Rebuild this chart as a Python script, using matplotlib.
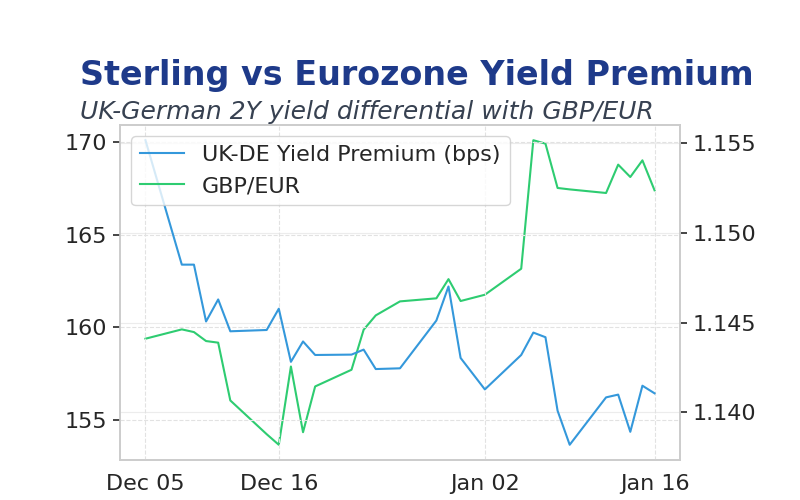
import matplotlib
matplotlib.use("Agg")
import matplotlib.pyplot as plt
import matplotlib.dates as mdates
import numpy as np
import pandas as pd

dates = pd.to_datetime([
    "2025-12-05", "2025-12-08", "2025-12-09", "2025-12-10", "2025-12-11", "2025-12-12",
    "2025-12-15", "2025-12-16", "2025-12-17", "2025-12-18", "2025-12-19",
    "2025-12-22", "2025-12-23", "2025-12-24", "2025-12-26",
    "2025-12-29", "2025-12-30", "2025-12-31", "2026-01-02",
    "2026-01-05", "2026-01-06", "2026-01-07", "2026-01-08", "2026-01-09",
    "2026-01-12", "2026-01-13", "2026-01-14", "2026-01-15", "2026-01-16",
])

yield_premium = [
    170.1, 163.38, 163.38, 160.31, 161.5, 159.78,
    159.85, 161.0, 158.13, 159.23, 158.5,
    158.52, 158.79, 157.74, 157.78,
    160.36, 162.2, 158.34, 156.64,
    158.5, 159.71, 159.46, 155.49, 153.65,
    156.21, 156.36, 154.35, 156.84, 156.43,
]

gbp_eur = [
    1.14411, 1.14463, 1.14448, 1.14398, 1.14389, 1.14067,
    1.13879, 1.1382, 1.14256, 1.1389, 1.14145,
    1.14238, 1.14461, 1.14541, 1.14619,
    1.14636, 1.14743, 1.14621, 1.14656,
    1.14801, 1.15517, 1.15498, 1.15251, 1.15243,
    1.15223, 1.15381, 1.15312, 1.15405, 1.15238,
]

tick_dates = pd.to_datetime(["2025-12-05", "2025-12-16", "2026-01-02", "2026-01-16"])

BLUE = "#3498db"
GREEN = "#2ecc71"
TEXT = "#262626"

fig = plt.figure(figsize=(8, 5), dpi=100)
ax1 = fig.add_axes([0.15, 0.08, 0.70, 0.67])
ax2 = ax1.twinx()

l1, = ax1.plot(dates, yield_premium, color=BLUE, lw=1.5, label="UK-DE Yield Premium (bps)")
l2, = ax2.plot(dates, gbp_eur, color=GREEN, lw=1.5, label="GBP/EUR")

ax1.set_xticks(tick_dates)
ax1.xaxis.set_major_formatter(mdates.DateFormatter("%b %d"))
ax1.set_yticks([155, 160, 165, 170])
ax2.set_yticks([1.140, 1.145, 1.150, 1.155])
ax2.yaxis.set_major_formatter(matplotlib.ticker.FormatStrFormatter("%.3f"))

ax1.grid(True, color="#e2e2e2", linestyle="--", lw=0.8)
ax2.grid(True, axis="y", color="#ececec", linestyle="-", lw=0.8)
ax1.set_axisbelow(True)

for ax in (ax1, ax2):
    for s in ax.spines.values():
        s.set_color("#cccccc")
        s.set_linewidth(1.2)
    ax.tick_params(axis="both", labelsize=16, labelcolor=TEXT, color=TEXT)
ax1.tick_params(axis="x", length=0, pad=10)
ax1.tick_params(axis="y", length=5, width=1.2, pad=4)
ax2.tick_params(axis="y", length=5, width=1.2, pad=4)

leg = ax1.legend(handles=[l1, l2], loc="upper left", fontsize=16, frameon=True,
                 framealpha=0.8, edgecolor="#cccccc", fancybox=True)
for t in leg.get_texts():
    t.set_color(TEXT)
ax1.set_zorder(ax2.get_zorder() + 1)
ax1.patch.set_visible(False)

fig.text(0.1, 0.83, "Sterling vs Eurozone Yield Premium", fontsize=24, fontweight="bold",
         color="#1e3a8a", ha="left", va="baseline")
fig.text(0.1, 0.762, "UK-German 2Y yield differential with GBP/EUR", fontsize=18,
         style="italic", color="#374151", ha="left", va="baseline")

fig.savefig("out.png", dpi=100)
